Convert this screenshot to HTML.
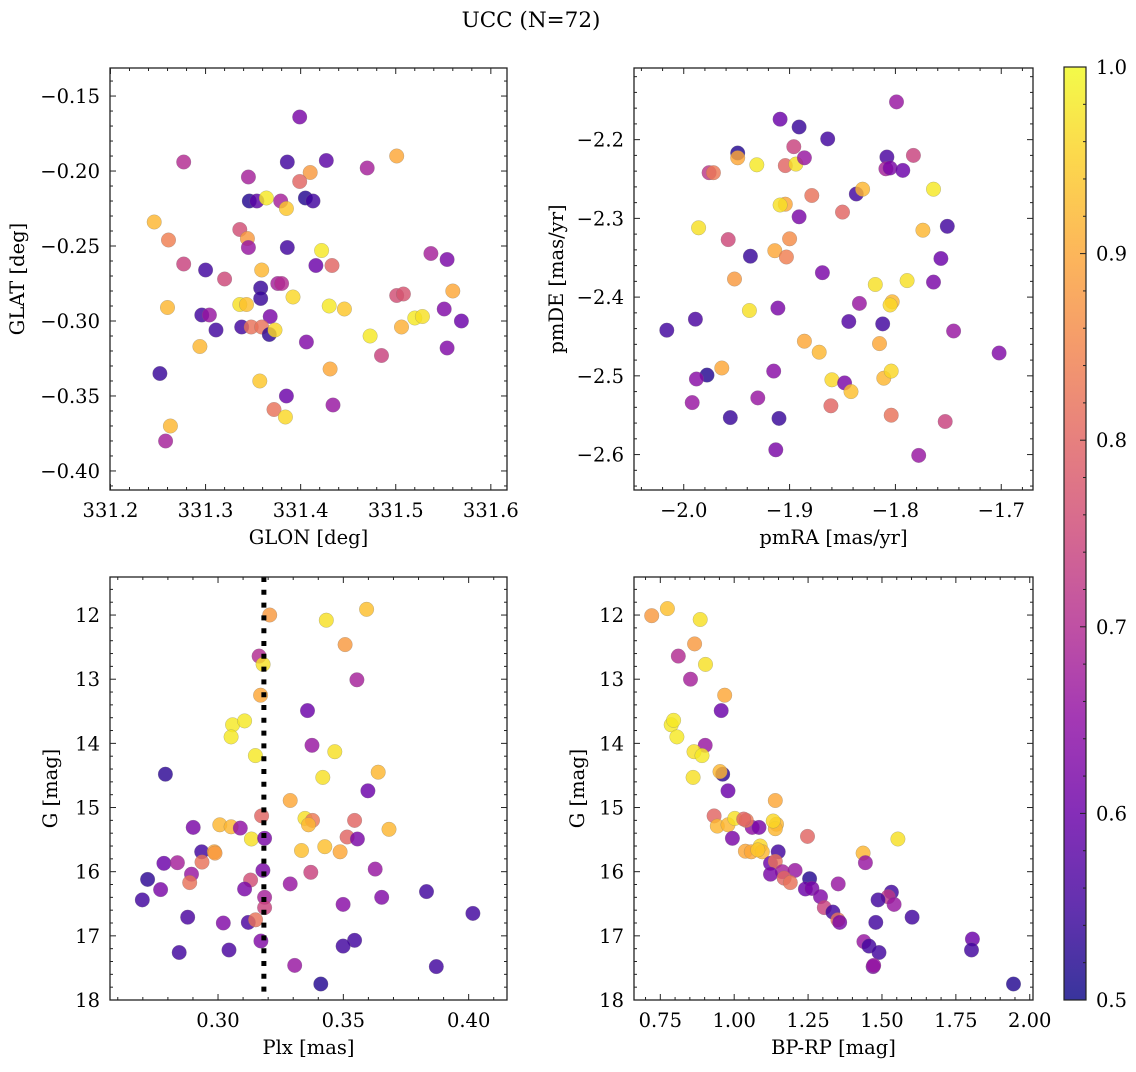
<!DOCTYPE html>
<html><head><meta charset="utf-8">
<style>
html,body{margin:0;padding:0;background:#fff;}
svg text{font-family:"DejaVu Serif","Liberation Serif",serif;fill:#000;}
</style></head>
<body>
<svg id="fig" xmlns="http://www.w3.org/2000/svg" width="1136" height="1067" viewBox="0 0 1136 1067">
<defs>
<linearGradient id="plasmaGrad" x1="0" y1="1" x2="0" y2="0">
<stop offset="0" stop-color="#0d0887"/><stop offset="0.1" stop-color="#41049d"/>
<stop offset="0.2" stop-color="#6a00a8"/><stop offset="0.3" stop-color="#8f0da4"/>
<stop offset="0.4" stop-color="#b12a90"/><stop offset="0.5" stop-color="#cc4778"/>
<stop offset="0.6" stop-color="#e16462"/><stop offset="0.7" stop-color="#f2844b"/>
<stop offset="0.8" stop-color="#fca636"/><stop offset="0.9" stop-color="#fcce25"/>
<stop offset="1" stop-color="#f0f921"/>
</linearGradient>
</defs>
<text x="531" y="27" font-size="21.5" text-anchor="middle">UCC (N=72)</text>
</svg>
<script>
// Panel 1: GLON vs GLAT
const p1Glon=[331.399,331.277,331.386,331.427,331.470,331.501,331.345,331.410,331.399,331.346,331.354,331.364,331.379,331.385,331.405,331.413,331.246,331.261,331.336,331.344,331.345,331.386,331.422,331.537,331.554,331.277,331.300,331.359,331.416,331.433,331.320,331.358,331.376,331.380,331.358,331.501,331.508,331.560,331.260,331.336,331.343,331.392,331.430,331.446,331.551,331.296,331.304,331.368,331.520,331.528,331.569,331.311,331.338,331.348,331.359,331.367,331.373,331.406,331.473,331.506,331.294,331.554,331.485,331.252,331.431,331.357,331.385,331.372,331.384,331.434,331.263,331.258];
const p1Glat=[-0.164,-0.194,-0.194,-0.193,-0.198,-0.190,-0.204,-0.201,-0.207,-0.220,-0.220,-0.218,-0.220,-0.225,-0.218,-0.220,-0.234,-0.246,-0.239,-0.245,-0.251,-0.251,-0.253,-0.255,-0.259,-0.262,-0.266,-0.266,-0.263,-0.263,-0.272,-0.278,-0.275,-0.275,-0.285,-0.283,-0.282,-0.280,-0.291,-0.289,-0.289,-0.284,-0.290,-0.292,-0.292,-0.296,-0.296,-0.297,-0.298,-0.297,-0.300,-0.306,-0.304,-0.304,-0.304,-0.309,-0.306,-0.314,-0.310,-0.304,-0.317,-0.318,-0.323,-0.335,-0.332,-0.340,-0.350,-0.359,-0.364,-0.356,-0.370,-0.380];
const p1Prob=[0.62,0.70,0.55,0.58,0.68,0.90,0.68,0.88,0.80,0.52,0.58,0.98,0.68,0.94,0.52,0.55,0.92,0.84,0.76,0.88,0.66,0.55,0.98,0.68,0.62,0.74,0.55,0.92,0.60,0.80,0.75,0.54,0.68,0.70,0.54,0.76,0.77,0.90,0.92,0.97,0.93,0.96,0.98,0.94,0.63,0.55,0.66,0.62,0.98,0.97,0.60,0.55,0.55,0.82,0.82,0.53,0.96,0.63,0.98,0.91,0.92,0.63,0.74,0.54,0.90,0.94,0.60,0.82,0.96,0.66,0.92,0.68];
// Panel 2: pmRA vs pmDE
const p2Pmra=[-1.799,-1.909,-1.891,-1.864,-1.949,-1.949,-1.931,-1.976,-1.972,-1.896,-1.904,-1.894,-1.886,-1.808,-1.783,-1.809,-1.805,-1.793,-1.837,-1.831,-1.764,-1.904,-1.909,-1.879,-1.891,-1.850,-1.986,-1.774,-1.751,-1.958,-1.900,-1.914,-1.903,-1.937,-1.757,-1.869,-1.952,-1.819,-1.789,-1.764,-1.938,-1.911,-1.834,-1.803,-1.805,-2.016,-1.989,-1.844,-1.812,-1.745,-1.886,-1.872,-1.815,-1.702,-1.978,-1.988,-1.964,-1.915,-1.860,-1.848,-1.842,-1.811,-1.804,-1.992,-1.930,-1.861,-1.956,-1.910,-1.804,-1.753,-1.913,-1.778];
const p2Pmde=[-2.152,-2.174,-2.184,-2.199,-2.217,-2.223,-2.232,-2.242,-2.242,-2.209,-2.233,-2.231,-2.223,-2.222,-2.220,-2.237,-2.236,-2.239,-2.269,-2.263,-2.263,-2.282,-2.283,-2.271,-2.298,-2.292,-2.312,-2.315,-2.310,-2.327,-2.326,-2.341,-2.349,-2.348,-2.351,-2.369,-2.377,-2.384,-2.379,-2.381,-2.417,-2.414,-2.408,-2.406,-2.410,-2.442,-2.428,-2.431,-2.434,-2.443,-2.456,-2.470,-2.459,-2.471,-2.499,-2.504,-2.490,-2.494,-2.505,-2.509,-2.520,-2.503,-2.494,-2.534,-2.528,-2.538,-2.553,-2.554,-2.550,-2.558,-2.594,-2.601];
const p2Prob=[0.66,0.60,0.54,0.55,0.52,0.90,0.98,0.72,0.83,0.74,0.80,0.97,0.66,0.56,0.74,0.68,0.62,0.60,0.55,0.92,0.98,0.90,0.97,0.82,0.62,0.80,0.97,0.92,0.55,0.75,0.86,0.90,0.84,0.54,0.60,0.62,0.88,0.97,0.97,0.62,0.97,0.62,0.66,0.92,0.96,0.55,0.56,0.57,0.55,0.66,0.90,0.92,0.90,0.63,0.52,0.64,0.90,0.64,0.96,0.62,0.93,0.92,0.96,0.66,0.66,0.80,0.54,0.54,0.82,0.74,0.62,0.66];
// Panel 3: Plx vs G
const p3Plx=[0.3593,0.3206,0.3432,0.3507,0.3164,0.3180,0.3554,0.3170,0.3357,0.3058,0.3106,0.3052,0.3375,0.3149,0.3466,0.2790,0.3639,0.3418,0.3598,0.3288,0.3174,0.3007,0.3052,0.3089,0.2901,0.3347,0.3377,0.3361,0.3545,0.3682,0.3133,0.3186,0.3515,0.3556,0.2935,0.2985,0.2988,0.3333,0.3426,0.3487,0.2784,0.2838,0.2936,0.3179,0.3627,0.3370,0.2719,0.2894,0.2887,0.3130,0.3288,0.2771,0.3106,0.3832,0.3186,0.3186,0.3653,0.2698,0.3499,0.4017,0.2879,0.3021,0.3121,0.3150,0.3171,0.3545,0.3499,0.2845,0.3044,0.3306,0.3871,0.3410];
const p3G=[11.91,12.00,12.08,12.46,12.64,12.77,13.01,13.25,13.49,13.71,13.65,13.90,14.03,14.19,14.13,14.48,14.45,14.53,14.74,14.89,15.13,15.27,15.30,15.32,15.31,15.17,15.20,15.27,15.20,15.34,15.49,15.48,15.46,15.49,15.69,15.69,15.71,15.67,15.61,15.69,15.87,15.86,15.85,15.98,15.96,16.01,16.12,16.04,16.17,16.13,16.19,16.28,16.27,16.31,16.40,16.56,16.40,16.44,16.51,16.65,16.71,16.80,16.79,16.75,17.08,17.07,17.16,17.26,17.22,17.46,17.48,17.75];
const p3Prob=[0.93,0.88,0.97,0.88,0.70,0.97,0.68,0.90,0.60,0.98,0.98,0.98,0.66,0.98,0.97,0.53,0.92,0.97,0.60,0.90,0.80,0.92,0.92,0.65,0.62,0.97,0.83,0.92,0.80,0.92,0.97,0.62,0.80,0.62,0.55,0.90,0.88,0.93,0.93,0.90,0.60,0.68,0.82,0.62,0.66,0.74,0.53,0.66,0.82,0.76,0.66,0.62,0.62,0.55,0.68,0.74,0.63,0.55,0.64,0.55,0.56,0.63,0.56,0.82,0.63,0.55,0.55,0.55,0.56,0.66,0.55,0.52];
const plxMedian=0.3183;
// Panel 4: BP-RP vs G
const p4Bprp=[0.721,0.774,0.885,0.866,0.811,0.903,0.852,0.968,0.956,0.787,0.795,0.806,0.902,0.864,0.891,0.961,0.952,0.861,0.979,1.139,0.932,0.943,0.979,1.061,1.084,1.002,1.041,1.143,1.248,1.139,1.554,0.994,1.149,1.038,1.058,1.088,1.095,1.436,1.444,1.123,1.139,1.206,1.163,1.123,1.169,1.190,1.255,1.352,1.241,1.263,1.292,1.532,1.521,1.487,1.541,1.305,1.334,1.351,1.357,1.479,1.602,1.439,1.456,1.490,1.806,1.803,1.470,1.472,1.945,1.032,1.080,1.132];
const p4G=[12.01,11.90,12.07,12.45,12.64,12.77,13.00,13.25,13.49,13.71,13.64,13.90,14.03,14.13,14.19,14.48,14.44,14.53,14.74,14.89,15.13,15.29,15.27,15.31,15.31,15.17,15.20,15.26,15.45,15.33,15.49,15.48,15.69,15.68,15.69,15.60,15.69,15.71,15.86,15.87,15.84,15.98,16.00,16.04,16.10,16.17,16.11,16.19,16.27,16.26,16.39,16.32,16.39,16.44,16.51,16.56,16.63,16.75,16.79,16.79,16.71,17.09,17.16,17.26,17.05,17.22,17.48,17.46,17.75,15.18,15.66,15.21];
const p4Prob=[0.88,0.93,0.97,0.88,0.70,0.97,0.68,0.90,0.60,0.98,0.98,0.98,0.66,0.97,0.98,0.53,0.92,0.97,0.60,0.90,0.80,0.92,0.92,0.65,0.62,0.97,0.83,0.92,0.80,0.92,0.97,0.62,0.55,0.90,0.90,0.96,0.92,0.92,0.66,0.60,0.82,0.66,0.68,0.62,0.80,0.82,0.52,0.66,0.60,0.62,0.63,0.55,0.72,0.55,0.66,0.74,0.55,0.82,0.62,0.55,0.55,0.66,0.55,0.55,0.60,0.55,0.62,0.66,0.52,0.80,0.94,0.96];
// Colorbar ticks
const cbTicks=[0.5,0.6,0.7,0.8,0.9,1.0];

const NS='http://www.w3.org/2000/svg';
const svg=document.getElementById('fig');
const FS=19.5;
const stops=[[13,8,135],[65,4,157],[106,0,168],[143,13,164],[177,42,144],[204,71,120],[225,100,98],[242,132,75],[252,166,54],[252,206,37],[240,249,33]];
function plasma(v){let t=Math.max(0,Math.min(1,(v-0.5)/0.5))*10;let i=Math.min(9,Math.floor(t));let f=t-i;const a=stops[i],b=stops[i+1];return 'rgb('+a.map((c,k)=>Math.round(c+(b[k]-c)*f)).join(',')+')';}
function mk(tag,attrs,parent){const e=document.createElementNS(NS,tag);for(const k in attrs)e.setAttribute(k,attrs[k]);(parent||svg).appendChild(e);return e;}
function fmt(v,d){const s=Math.abs(v).toFixed(d);return (v<-1e-9?'\u2212':'')+s;}

function panel(cfg){
  const g=mk('g',{});
  
  
  const {L,R,T,B,x0,x1,y0,y1}=cfg;
  const sx=v=>L+(v-x0)/(x1-x0)*(R-L);
  const sy=v=>cfg.inv? T+(v-y0)/(y1-y0)*(B-T) : B-(v-y0)/(y1-y0)*(B-T);
  const pts=mk('g',{},g);
  
  
  for(let i=0;i<cfg.xs.length;i++){
    const c=mk('circle',{cx:sx(cfg.xs[i]).toFixed(1),cy:sy(cfg.ys[i]).toFixed(1),r:7.3,fill:plasma(cfg.cs[i]),'fill-opacity':0.82,stroke:'#777','stroke-width':0.4,'stroke-opacity':0.6},pts);
    
    
  }
  if(cfg.vline!==undefined){
    const l=mk('line',{x1:sx(cfg.vline),x2:sx(cfg.vline),y1:T,y2:B,stroke:'#000','stroke-width':5,'stroke-dasharray':'5,7.8'},g);
    
    
  }
  const f=mk('rect',{x:L,y:T,width:R-L,height:B-T,fill:'none',stroke:'#222','stroke-width':1.3},g);
  
  
  const tk=mk('g',{stroke:'#222','stroke-width':1},g);
  
  
  const lo=Math.min(x0,x1),hi=Math.max(x0,x1);
  for(let k=Math.ceil(lo/cfg.xmin-1e-6);k*cfg.xmin<=hi+1e-9;k++){
    const v=k*cfg.xmin;const x=sx(v);const maj=Math.abs(v/cfg.xmaj-Math.round(v/cfg.xmaj))<1e-6;const len=maj?6:3;
    mk('line',{x1:x,x2:x,y1:B,y2:B-len},tk);mk('line',{x1:x,x2:x,y1:T,y2:T+len},tk);
  }
  const ylo=Math.min(y0,y1),yhi=Math.max(y0,y1);
  for(let k=Math.ceil(ylo/cfg.ymin-1e-6);k*cfg.ymin<=yhi+1e-9;k++){
    const v=k*cfg.ymin;const y=sy(v);const maj=Math.abs(v/cfg.ymaj-Math.round(v/cfg.ymaj))<1e-6;const len=maj?6:3;
    mk('line',{x1:L,x2:L+len,y1:y,y2:y},tk);mk('line',{x1:R,x2:R-len,y1:y,y2:y},tk);
  }
  cfg.xt.forEach(v=>{const t=mk('text',{x:sx(v),y:B+27,'font-size':FS,'text-anchor':'middle'},g);t.textContent=fmt(v,cfg.xd);
    });
  cfg.yt.forEach(v=>{const t=mk('text',{x:L-10,y:sy(v)+7,'font-size':FS,'text-anchor':'end'},g);t.textContent=fmt(v,cfg.yd);
    });
  const xl=mk('text',{x:(L+R)/2,y:B+54,'font-size':FS,'text-anchor':'middle'},g);xl.textContent=cfg.xlabel;
  
  const yx=cfg.ylx, ycy=(T+B)/2;
  const yl=mk('text',{x:yx,y:ycy,'font-size':FS,'text-anchor':'middle',transform:'rotate(-90 '+yx+' '+ycy+')'},g);yl.textContent=cfg.ylabel;
  
}

panel({name:'glon-glat-panel',L:110,R:507,T:68,B:490,x0:331.1995,x1:331.617,y0:-0.4127,y1:-0.1313,xs:p1Glon,ys:p1Glat,cs:p1Prob,
  xmin:0.02,xmaj:0.1,ymin:0.01,ymaj:0.05,xt:[331.2,331.3,331.4,331.5,331.6],xd:1,yt:[-0.15,-0.2,-0.25,-0.3,-0.35,-0.4],yd:2,xlabel:'GLON [deg]',ylabel:'GLAT [deg]',ylx:24});
panel({name:'pm-panel',L:634,R:1033,T:68,B:490,x0:-2.047,x1:-1.670,y0:-2.645,y1:-2.109,xs:p2Pmra,ys:p2Pmde,cs:p2Prob,
  xmin:0.02,xmaj:0.1,ymin:0.02,ymaj:0.1,xt:[-2.0,-1.9,-1.8,-1.7],xd:1,yt:[-2.2,-2.3,-2.4,-2.5,-2.6],yd:1,xlabel:'pmRA [mas/yr]',ylabel:'pmDE [mas/yr]',ylx:563});
panel({name:'plx-g-panel',L:110,R:507,T:577,B:1000,x0:0.2569,x1:0.4153,y0:11.407,y1:18.0,inv:true,xs:p3Plx,ys:p3G,cs:p3Prob,vline:plxMedian,
  xmin:0.01,xmaj:0.05,ymin:0.2,ymaj:1,xt:[0.30,0.35,0.40],xd:2,yt:[12,13,14,15,16,17,18],yd:0,xlabel:'Plx [mas]',ylabel:'G [mag]',ylx:57});
panel({name:'cmd-panel',L:634,R:1033,T:577,B:1000,x0:0.661,x1:2.011,y0:11.407,y1:18.0,inv:true,xs:p4Bprp,ys:p4G,cs:p4Prob,
  xmin:0.05,xmaj:0.25,ymin:0.2,ymaj:1,xt:[0.75,1.0,1.25,1.5,1.75,2.0],xd:2,yt:[12,13,14,15,16,17,18],yd:0,xlabel:'BP-RP [mag]',ylabel:'G [mag]',ylx:584});

const cb=mk('g',{});


const cbT=67,cbB=1000,cbL=1064,cbR=1086;
const cy=v=>cbB-(v-0.5)/0.5*(cbB-cbT);
mk('rect',{x:cbL,y:cbT,width:cbR-cbL,height:cbB-cbT,fill:'url(#plasmaGrad)','fill-opacity':0.82},cb);
mk('rect',{x:cbL,y:cbT,width:cbR-cbL,height:cbB-cbT,fill:'none',stroke:'#222','stroke-width':1.2},cb);
for(let k=25;k<=50;k++){const v=k*0.02;const y=cy(v);const maj=(k%5===0);mk('line',{x1:cbR,x2:cbR-(maj?6:3),y1:y,y2:y,stroke:'#222','stroke-width':1},cb);}
cbTicks.forEach(v=>{const t=mk('text',{x:cbR+10,y:cy(v)+7,'font-size':FS},cb);t.textContent=v.toFixed(1);
  });
</script>
</body></html>
